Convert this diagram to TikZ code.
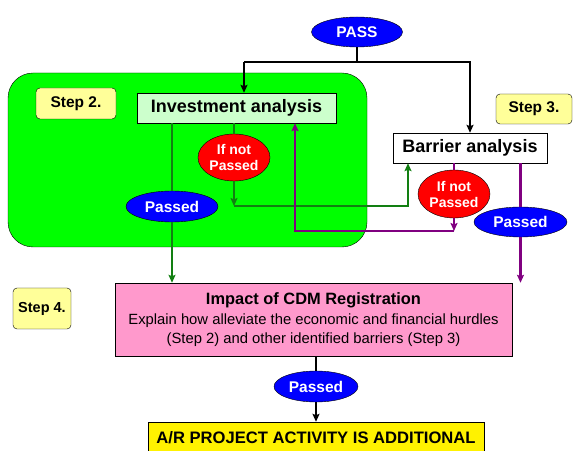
\documentclass[tikz,border=0pt]{standalone}
\usepackage{fontspec}
\setmainfont{Liberation Sans}
\usepackage{tikz}
\usetikzlibrary{positioning,shapes.geometric,arrows.meta}

\definecolor{framegreen}{HTML}{00FF00}
\definecolor{lightgreen}{HTML}{CCFFCC}
\definecolor{stepyellow}{HTML}{FFFF99}
\definecolor{impactpink}{HTML}{FF99CC}
\definecolor{linegreen}{HTML}{127F12}
\definecolor{linepurple}{HTML}{800080}

\begin{document}
\begin{tikzpicture}[x=1pt,y=1pt,
    oval/.style={draw, ellipse, inner sep=0pt, text=white,
        font=\bfseries\fontsize{15.5}{17}\selectfont},
    passoval/.style={oval, fill=blue},
    failoval/.style={oval, fill=red, align=center,
        font=\bfseries\fontsize{14}{16}\selectfont},
    stepbox/.style={draw, rounded corners=4pt, fill=stepyellow, inner sep=0pt,
        font=\bfseries\fontsize{15.5}{17}\selectfont},
    analysis/.style={draw, inner sep=0pt, minimum height=30,
        font=\bfseries\fontsize{18}{20}\selectfont},
    wire/.style={line width=2.5pt},
    flow/.style={wire, -{Stealth[length=8pt,width=7pt,inset=1.5pt]}}
]

    \useasboundingbox (0,0) rectangle (573,450);

    % Step 2 frame
    \draw[fill=framegreen, rounded corners=25pt] (8,203) rectangle (367,377);

    % Boxes
    \node[passoval,
        minimum width=91,
        minimum height=30
    ] (pass) at (357,418) {PASS};

    \node[analysis,
        fill=lightgreen,
        minimum width=199
    ] (invest) at (236.5,342) {Investment analysis};

    \node[analysis,
        fill=white,
        minimum width=154
    ] (barrier) at (470,302) {Barrier analysis};

    \node[stepbox,
        minimum width=80,
        minimum height=31
    ] (step2) at (76,346.5) {Step 2.};

    \node[stepbox,
        minimum width=76,
        minimum height=30
    ] (step3) at (534,341) {Step 3.};

    \node[stepbox,
        minimum width=58,
        minimum height=41,
        font=\bfseries\fontsize{14.5}{17}\selectfont
    ] (step4) at (42,141.5) {Step 4.};

    % Ovals
    \node[failoval,
        minimum width=72,
        minimum height=47
    ] (failinv) at (234,292.5) {If not\\Passed};

    \node[passoval,
        minimum width=92,
        minimum height=31
    ] (passinv) at (172,243.5) {Passed};

    \node[failoval,
        minimum width=72,
        minimum height=48
    ] (failbar) at (454,256) {If not\\Passed};

    \node[passoval,
        minimum width=93,
        minimum height=30
    ] (passbar) at (520.5,228) {Passed};

    % Step 4
    \node[draw,
        fill=impactpink,
        minimum width=397,
        minimum height=73,
        inner sep=0pt,
        align=center,
        font=\fontsize{14.8}{19}\selectfont
    ] (impact) at (313.5,130.5) {{\bfseries\fontsize{16.4}{19}\selectfont Impact of CDM Registration}\\[1pt]
        Explain how alleviate the economic and financial hurdles\\
        (Step 2) and other identified barriers (Step 3)};

    \node[passoval,
        minimum width=84,
        minimum height=31
    ] (passcdm) at (316,63.5) {Passed};

    \node[draw,
        fill=yellow,
        minimum width=336,
        minimum height=32,
        inner sep=0pt,
        font=\bfseries\fontsize{16.6}{18}\selectfont
    ] (additional) at (316,12) {A/R PROJECT ACTIVITY IS ADDITIONAL};

    % Arrows from PASS
    \coordinate (fork) at (244,388);
    \draw[wire] (pass.south) -- (pass.south |- fork);
    \draw[flow] (fork) -- (fork |- invest.north);
    \draw[flow] (fork) -| (barrier.north);

    % Investment analysis outcomes
    \draw[wire, linegreen] (passinv.north |- invest.south) -- (passinv.north);
    \draw[flow, linegreen] (passinv.south) -- (passinv.south |- impact.north);
    \draw[wire, linegreen] (failinv.north |- invest.south) -- (failinv.north);

    \coordinate (greenturn) at (234,244);
    \coordinate (greenup) at (408,244);
    \draw[flow, linegreen] (failinv.south) -- (greenturn);
    \draw[flow, linegreen] (greenturn) -- (greenup) -- (greenup |- barrier.south);

    % Barrier analysis outcomes
    \draw[wire, linepurple] (failbar.north |- barrier.south) -- (failbar.north);

    \coordinate (purpleturn) at (454,219);
    \coordinate (purpleup) at (295,219);
    \draw[flow, linepurple] (failbar.south) -- (purpleturn);
    \draw[flow, linepurple] (purpleturn) -- (purpleup) -- (purpleup |- invest.south);

    \draw[wire, linepurple] (passbar.north |- barrier.south) -- (passbar.north);
    \draw[flow, linepurple] (passbar.south) -- (passbar.south |- impact.north);

    % Final result
    \draw[wire] (passcdm.north |- impact.south) -- (passcdm.north);
    \draw[flow] (passcdm.south) -- (additional.north);

\end{tikzpicture}
\end{document}
